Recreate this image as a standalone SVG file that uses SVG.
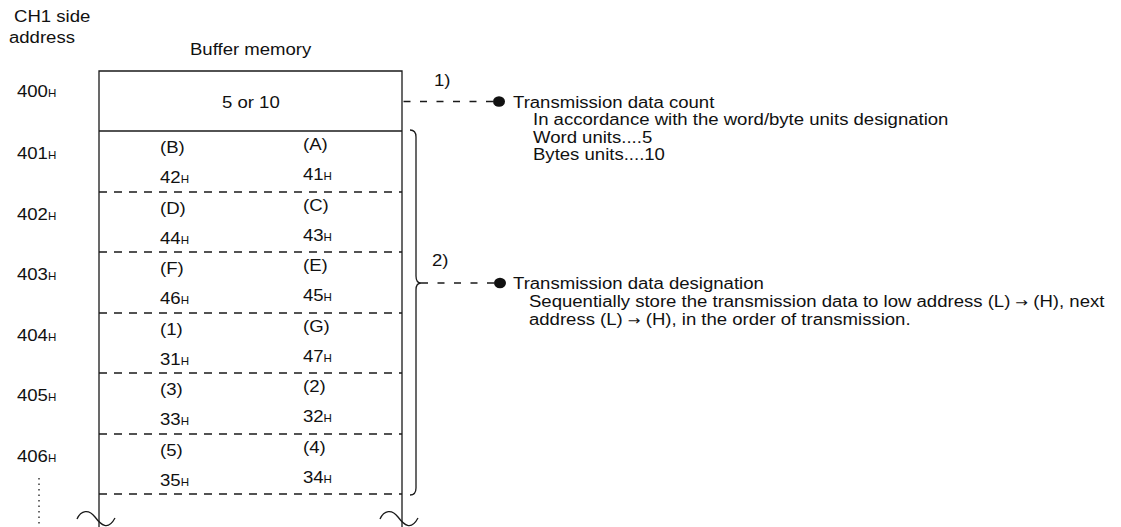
<svg xmlns="http://www.w3.org/2000/svg" width="1121" height="527" viewBox="0 0 1121 527">
<style>
.t{font-family:"Liberation Sans",Arial,Helvetica,sans-serif;font-size:16px;fill:#111;transform:scaleX(1.16);transform-box:fill-box;transform-origin:0 0}
.s{font-size:10px}
.ar{font-family:"DejaVu Sans",sans-serif;font-size:13px}
.ln{stroke:#1a1a1a;stroke-width:1.3;fill:none}
.dl{stroke:#1a1a1a;stroke-width:1.3;fill:none;stroke-dasharray:8 7}
.ld{stroke:#1a1a1a;stroke-width:1.3;fill:none;stroke-dasharray:7 9.5}
.dot{fill:#111}
</style>
<rect width="1121" height="527" fill="#fff"/>

<g id="address-labels">
<text class="t" x="14" y="22">CH1 side</text>
<text class="t" x="9" y="43">address</text>
<text class="t" x="17" y="97">400<tspan class="s">H</tspan></text>
<text class="t" x="17" y="159">401<tspan class="s">H</tspan></text>
<text class="t" x="17" y="220">402<tspan class="s">H</tspan></text>
<text class="t" x="17" y="280">403<tspan class="s">H</tspan></text>
<text class="t" x="17" y="341">404<tspan class="s">H</tspan></text>
<text class="t" x="17" y="401">405<tspan class="s">H</tspan></text>
<text class="t" x="17" y="462">406<tspan class="s">H</tspan></text>
<line x1="39" y1="478" x2="39" y2="527" stroke="#1a1a1a" stroke-width="1.3" stroke-dasharray="1.5 4"/>
</g>

<g id="buffer-memory">
<text class="t" x="190" y="55">Buffer memory</text>
<path class="ln" d="M99,527 V71 H402 V527"/>
<line class="ln" x1="99" y1="131" x2="402" y2="131" stroke-width="1.8"/>
<path class="ln" d="M77,519 C81,510 89,509 95,517 C101,525 108,531 115,518"/>
<path class="ln" d="M380,519 C384,510 392,509 398,517 C404,525 411,531 418,518"/>
<g id="row-400"><text class="t" x="222" y="108">5 or 10</text></g>
<g id="row-401">
<text class="t" x="160" y="153">(B)</text><text class="t" x="303" y="150">(A)</text>
<text class="t" x="160" y="183">42<tspan class="s">H</tspan></text><text class="t" x="303" y="180">41<tspan class="s">H</tspan></text>
<line class="dl" x1="99" y1="192" x2="402" y2="192"/>
</g>
<g id="row-402">
<text class="t" x="160" y="214">(D)</text><text class="t" x="303" y="211">(C)</text>
<text class="t" x="160" y="244">44<tspan class="s">H</tspan></text><text class="t" x="303" y="241">43<tspan class="s">H</tspan></text>
<line class="dl" x1="99" y1="252" x2="402" y2="252"/>
</g>
<g id="row-403">
<text class="t" x="160" y="274">(F)</text><text class="t" x="303" y="271">(E)</text>
<text class="t" x="160" y="304">46<tspan class="s">H</tspan></text><text class="t" x="303" y="301">45<tspan class="s">H</tspan></text>
<line class="dl" x1="99" y1="313" x2="402" y2="313"/>
</g>
<g id="row-404">
<text class="t" x="160" y="335">(1)</text><text class="t" x="303" y="332">(G)</text>
<text class="t" x="160" y="365">31<tspan class="s">H</tspan></text><text class="t" x="303" y="362">47<tspan class="s">H</tspan></text>
<line class="dl" x1="99" y1="373" x2="402" y2="373"/>
</g>
<g id="row-405">
<text class="t" x="160" y="395">(3)</text><text class="t" x="303" y="392">(2)</text>
<text class="t" x="160" y="425">33<tspan class="s">H</tspan></text><text class="t" x="303" y="422">32<tspan class="s">H</tspan></text>
<line class="dl" x1="99" y1="434" x2="402" y2="434"/>
</g>
<g id="row-406">
<text class="t" x="160" y="456">(5)</text><text class="t" x="303" y="453">(4)</text>
<text class="t" x="160" y="486">35<tspan class="s">H</tspan></text><text class="t" x="303" y="483">34<tspan class="s">H</tspan></text>
<line class="dl" x1="99" y1="494" x2="402" y2="494"/>
</g>
</g>

<g id="connectors">
<path class="ld" d="M493,101.5 H402"/>
<path class="ln" d="M410,130 Q416,130 416,137 V276 Q416,283 421,283 Q416,283 416,290 V488 Q416,495 410,495"/>
<path class="ld" d="M494,283 H421"/>
</g>

<g id="note-1">
<text class="t" x="434" y="86">1)</text>
<ellipse class="dot" cx="499" cy="101.5" rx="6" ry="5.3"/>
<text class="t" x="513" y="108">Transmission data count</text>
<text class="t" x="533" y="125.5">In accordance with the word/byte units designation</text>
<text class="t" x="533" y="143">Word units....5</text>
<text class="t" x="533" y="160.5">Bytes units....10</text>
</g>

<g id="note-2">
<text class="t" x="432" y="266">2)</text>
<ellipse class="dot" cx="500" cy="283" rx="6" ry="5.3"/>
<text class="t" x="513" y="289.5">Transmission data designation</text>
<text class="t" x="529" y="307.5">Sequentially store the transmission data to low address (L) <tspan class="ar">→</tspan> (H), next</text>
<text class="t" x="529" y="325.5">address (L) <tspan class="ar">→</tspan> (H), in the order of transmission.</text>
</g>
</svg>
